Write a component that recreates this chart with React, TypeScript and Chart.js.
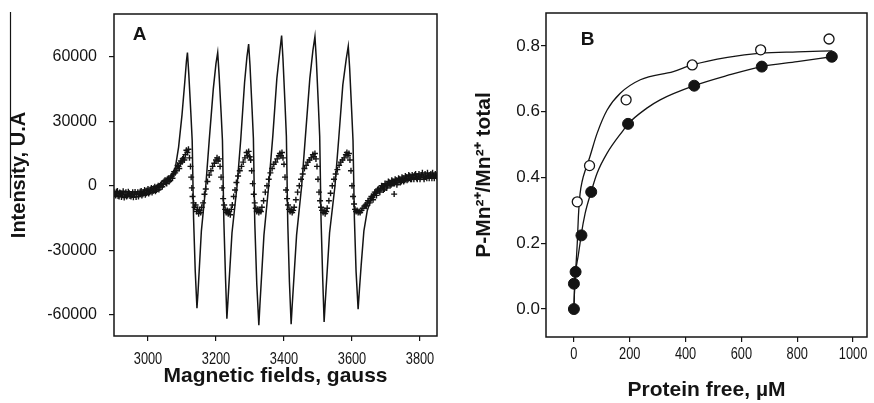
import React, { useEffect, useRef } from "react";
import { Chart, registerables } from "chart.js";
Chart.register(...registerables);

// ---------- Panel A : EPR spectrum ----------
const fieldTicks = [3000, 3200, 3400, 3600, 3800];
const intensityTicks = [-60000, -30000, 0, 30000, 60000];

// simulated spectrum (solid line): [field (gauss), intensity]
const simSpectrum: number[][] = [
  [2900, -3500], [2930, -4200], [2960, -4200], [2990, -3200], [3020, -1200], [3050, 1500], [3070, 4500], [3080, 8000],
  [3090, 18000], [3100, 33000], [3108, 48000], [3113, 58000], [3116, 62000],
  [3120, 52000], [3126, 34000], [3130, 21000], [3134, -15000], [3139, -40000], [3144, -57000],
  [3147, -50000], [3157, -21000], [3170, 0], [3180, 21000], [3192, 45000], [3200, 57000], [3205, 62000],
  [3209, 52000], [3215, 34000], [3219, 21000], [3223, -16000], [3228, -43000], [3232, -62000],
  [3235, -54000], [3247, -22000], [3262, 0], [3273, 22000], [3284, 48000], [3291, 60000], [3296, 66000],
  [3300, 56000], [3306, 36000], [3310, 22000], [3314, -17000], [3320, -46000], [3326, -65000],
  [3329, -56000], [3341, -23000], [3355, 0], [3367, 23000], [3379, 50000], [3388, 63000], [3393, 70000],
  [3397, 59000], [3403, 38000], [3407, 23000], [3411, -17000], [3416, -45000], [3421, -64500],
  [3424, -56000], [3437, -23000], [3452, 0], [3463, 23000], [3476, 50000], [3485, 63000], [3491, 69500],
  [3495, 59000], [3501, 38000], [3505, 23000], [3509, -16000], [3514, -44000], [3518, -63500],
  [3521, -55000], [3534, -22000], [3550, 0], [3561, 22000], [3573, 47000], [3583, 59000], [3589, 65000],
  [3593, 55000], [3599, 35000], [3603, 21000], [3607, -15000], [3612, -40000], [3618, -57500],
  [3622, -48000], [3627, -37000], [3635, -21000], [3645, -11500], [3658, -5500], [3675, -2000],
  [3700, 500], [3740, 2500], [3790, 3800], [3850, 4200],
];

// experimental spectrum (crosses): [field (gauss), intensity]
const expSpectrum: number[][] = [
  [2900, -3000], [2905, -4500], [2910, -2500], [2915, -5000], [2920, -3500], [2925, -4000], [2930, -5500], [2935, -3000],
  [2940, -4500], [2945, -3500], [2950, -5000], [2955, -3000], [2960, -4000], [2965, -5200], [2970, -3000], [2975, -4000],
  [2980, -2500], [2985, -4000], [2990, -2000], [2995, -3500], [3000, -1500], [3005, -3000], [3010, -1000], [3015, -2500],
  [3020, -500], [3025, -2000], [3030, 0], [3035, -1000], [3040, 1000], [3045, 500], [3050, 2500], [3055, 1000],
  [3060, 3500], [3065, 2500], [3070, 4500], [3075, 5500], [3080, 6000], [3085, 8000], [3090, 9000], [3095, 10500],
  [3100, 11000], [3105, 13000], [3110, 14500], [3113, 16500], [3116, 15500], [3119, 17000], [3122, 13000], [3125, 9000],
  [3127, 4000], [3129, -1000], [3131, -5000], [3134, -8000], [3137, -10000], [3140, -9000], [3143, -12000], [3146, -11000],
  [3149, -13000], [3152, -11500], [3155, -12500], [3158, -10000], [3162, -8000], [3166, -4000], [3170, -1500], [3175, 2000],
  [3180, 5000], [3185, 7000], [3190, 9000], [3195, 10500], [3200, 12000], [3203, 13000], [3206, 11500], [3209, 12500],
  [3212, 9000], [3215, 4000], [3218, -1000], [3221, -6000], [3224, -9000], [3227, -11000], [3230, -12500], [3233, -11500],
  [3236, -13000], [3239, -12000], [3242, -13500], [3245, -11000], [3248, -9000], [3252, -5000], [3256, -2000], [3260, 1500],
  [3265, 4500], [3270, 7000], [3275, 9000], [3280, 11000], [3285, 13000], [3290, 15500], [3293, 14000], [3296, 16000],
  [3299, 13500], [3302, 12000], [3305, 7000], [3308, 1000], [3311, -4000], [3314, -8000], [3317, -10500], [3320, -12000],
  [3323, -11000], [3326, -12500], [3329, -11500], [3332, -12000], [3335, -10000], [3340, -7000], [3345, -3000], [3350, 0],
  [3355, 3000], [3360, 6000], [3365, 8000], [3370, 10000], [3375, 11000], [3380, 12500], [3385, 14000], [3388, 15000],
  [3391, 14000], [3394, 15500], [3397, 13000], [3400, 10000], [3403, 4000], [3406, -2000], [3409, -6000], [3412, -9000],
  [3415, -11000], [3418, -12000], [3421, -11000], [3424, -12500], [3427, -11500], [3430, -10000], [3435, -6500], [3440, -3000],
  [3445, 0], [3450, 3000], [3455, 5500], [3460, 8000], [3465, 9500], [3470, 11000], [3475, 12000], [3480, 13000],
  [3485, 14500], [3488, 13500], [3491, 15000], [3494, 12500], [3497, 9000], [3500, 3000], [3503, -3000], [3506, -7000],
  [3509, -10000], [3512, -11500], [3515, -12500], [3518, -11500], [3521, -13000], [3524, -12000], [3527, -10500], [3532, -7000],
  [3537, -3500], [3542, 0], [3547, 3000], [3552, 5500], [3557, 7500], [3562, 9500], [3567, 11000], [3572, 12000],
  [3577, 13000], [3582, 14500], [3585, 15500], [3588, 14000], [3591, 15000], [3594, 12000], [3597, 7000], [3600, 0],
  [3603, -5000], [3606, -8500], [3609, -11000], [3612, -12000], [3615, -11500], [3618, -12500], [3621, -12000], [3624, -12500],
  [3628, -11500], [3632, -10500], [3636, -9500], [3640, -9000], [3645, -8000], [3650, -7000], [3655, -6000], [3660, -5500],
  [3665, -4000], [3670, -3500], [3675, -2000], [3680, -2500], [3685, -1000], [3690, -500], [3695, -1500], [3700, 500],
  [3705, 0], [3710, 1500], [3715, 500], [3720, 2000], [3724, -3900], [3725, 1000], [3730, 2500], [3735, 1500], [3740, 3000],
  [3745, 2000], [3750, 3500], [3755, 2500], [3760, 4000], [3765, 3000], [3770, 4500], [3775, 3000], [3780, 4000],
  [3785, 5000], [3790, 3500], [3795, 4500], [3800, 3000], [3805, 5000], [3810, 4000], [3815, 5500], [3820, 3500],
  [3825, 4500], [3830, 5000], [3835, 3500], [3840, 4500], [3845, 5500], [3850, 4000],
  // additional readings in the noisy baseline regions
  [2902, -4000], [2907, -2800], [2912, -4800], [2917, -3200], [2922, -5200], [2927, -2600], [2932, -4200], [2937, -5000],
  [2942, -2800], [2947, -4800], [2952, -3800], [2957, -5400], [2962, -2900], [2967, -3800], [2972, -5000], [2977, -2800],
  [2982, -4500], [2987, -3000], [2992, -4200], [2997, -2200], [3002, -3600], [3007, -1800], [3012, -3200], [3017, -1200],
  [3022, -2600], [3027, -600], [3032, -1800], [3037, 500], [3042, -500], [3047, 2000], [3052, 1500], [3057, 3000],
  [3062, 2000], [3067, 4000], [3072, 3500], [3077, 6500], [3082, 7000], [3087, 9500], [3092, 8000], [3097, 11500],
  [3102, 12500], [3107, 12000],
  [3642, -9500], [3647, -7000], [3652, -8000], [3657, -5000], [3662, -6500], [3667, -3000], [3672, -4500], [3677, -1500],
  [3682, -3000], [3687, 0], [3692, -2000], [3697, 1000], [3702, -1000], [3707, 2000], [3712, 0], [3717, 2500],
  [3722, 1000], [3727, 3000], [3732, 500], [3737, 3500], [3742, 1500], [3747, 4000], [3752, 2000], [3757, 4500],
  [3762, 2500], [3767, 5000], [3772, 3000], [3777, 5000], [3782, 3000], [3787, 5500], [3792, 3000], [3797, 5500],
  [3802, 4000], [3807, 6000], [3812, 3000], [3817, 4500], [3822, 6000], [3827, 3500], [3832, 5500], [3837, 6000],
  [3842, 3500], [3847, 5000],
];

// ---------- Panel B : binding curves ----------
const proteinTicks = [0, 200, 400, 600, 800, 1000];
const ratioTicks = [0, 0.2, 0.4, 0.6, 0.8];

const openProtein = [12, 56, 187, 424, 669, 914];
const openRatio = [0.326, 0.436, 0.636, 0.742, 0.788, 0.821];
const filledProtein = [0, 0, 6, 27, 62, 194, 431, 673, 924];
const filledRatio = [0, 0.077, 0.113, 0.224, 0.356, 0.563, 0.679, 0.737, 0.767];

const openFitProtein = [0, 3, 8, 12, 16, 22, 30, 42, 56, 83, 119, 166, 238, 356, 424, 550, 670, 800, 926];
const openFitRatio = [0, 0.08, 0.14, 0.2, 0.28, 0.35, 0.39, 0.425, 0.46, 0.534, 0.605, 0.656, 0.697, 0.722, 0.742, 0.765, 0.778, 0.782, 0.785];
const filledFitProtein = [0, 3, 6, 15, 22, 26, 40, 62, 83, 119, 178, 194, 260, 309, 431, 550, 673, 800, 924];
const filledFitRatio = [0, 0.08, 0.113, 0.16, 0.2, 0.225, 0.29, 0.357, 0.413, 0.474, 0.545, 0.563, 0.61, 0.636, 0.679, 0.71, 0.737, 0.752, 0.767];

const FONT = "'Liberation Sans', Arial, Helvetica, sans-serif";
const INK = "#141414";

const pairs = (xs: number[], ys: number[]) => xs.map((x, i) => ({ x, y: ys[i] }));

function framePlugin() {
  return {
    id: "frame",
    afterDatasetsDraw(chart: any) {
      const { ctx, chartArea } = chart;
      const { left, top, right, bottom } = chartArea;
      ctx.save();
      ctx.strokeStyle = INK;
      ctx.lineWidth = 1.5;
      ctx.strokeRect(left, top, right - left, bottom - top);
      ctx.restore();
    },
  };
}

function xLabelPlugin(centerY: number, squeeze: number) {
  return {
    id: "xlabels",
    afterDraw(chart: any) {
      const s = chart.scales.x;
      const ctx = chart.ctx;
      ctx.save();
      ctx.font = `16px ${FONT}`;
      ctx.fillStyle = INK;
      ctx.textAlign = "center";
      ctx.textBaseline = "middle";
      for (const t of s.ticks) {
        const x = s.getPixelForValue(t.value);
        ctx.save();
        ctx.translate(x, centerY);
        ctx.scale(squeeze, 1);
        ctx.fillText(String(t.value), 0, 0);
        ctx.restore();
      }
      ctx.restore();
    },
  };
}

function yLabelPlugin(rightX: number, size: number, fmt: (v: number) => string) {
  return {
    id: "ylabels",
    afterDraw(chart: any) {
      const s = chart.scales.y;
      const ctx = chart.ctx;
      ctx.save();
      ctx.font = `${size}px ${FONT}`;
      ctx.fillStyle = INK;
      ctx.textAlign = "right";
      ctx.textBaseline = "middle";
      for (const t of s.ticks) {
        ctx.fillText(fmt(t.value), rightX, s.getPixelForValue(t.value));
      }
      ctx.restore();
    },
  };
}

function panelLabelPlugin(text: string, dx: number, dy: number) {
  return {
    id: "panelLabel",
    afterDraw(chart: any) {
      const { ctx, chartArea } = chart;
      ctx.save();
      ctx.font = `bold 19px ${FONT}`;
      ctx.fillStyle = INK;
      ctx.textAlign = "center";
      ctx.textBaseline = "middle";
      ctx.fillText(text, chartArea.left + dx, chartArea.top + dy);
      ctx.restore();
    },
  };
}

const artifactPlugin = {
  id: "artifact",
  afterDraw(chart: any) {
    const ctx = chart.ctx;
    ctx.save();
    ctx.strokeStyle = INK;
    ctx.lineWidth = 1.2;
    ctx.beginPath();
    ctx.moveTo(10.5, 12);
    ctx.lineTo(10.5, 198);
    ctx.stroke();
    ctx.restore();
  },
};

const tickGrid = { display: true, drawOnChartArea: false, drawTicks: true, tickLength: 5, color: INK, lineWidth: 1.2 };

export default function App() {
  const refA = useRef<HTMLCanvasElement>(null);
  const refB = useRef<HTMLCanvasElement>(null);

  useEffect(() => {
    const chartA = new Chart(refA.current as HTMLCanvasElement, {
      type: "scatter",
      data: {
        datasets: [
          {
            data: simSpectrum.map(([x, y]) => ({ x, y })),
            showLine: true,
            borderColor: INK,
            borderWidth: 1.5,
            pointRadius: 0,
            tension: 0,
          } as any,
          {
            data: expSpectrum.map(([x, y]) => ({ x, y })),
            showLine: false,
            pointStyle: "cross",
            pointRadius: 3,
            borderColor: INK,
            pointBorderWidth: 1.4,
            backgroundColor: INK,
          } as any,
        ],
      },
      options: {
        responsive: false,
        maintainAspectRatio: false,
        animation: false,
        devicePixelRatio: 1,
        layout: { autoPadding: false, padding: { left: 0, top: 14, right: 3, bottom: 0 } },
        plugins: { legend: { display: false }, tooltip: { enabled: false } },
        scales: {
          x: {
            type: "linear",
            min: 2900,
            max: 3850,
            afterBuildTicks: (s: any) => { s.ticks = fieldTicks.map((v) => ({ value: v })); },
            afterFit: (s: any) => { s.height = 67; },
            ticks: { display: false },
            grid: tickGrid,
            border: { display: false },
            title: {
              display: true,
              text: "Magnetic fields, gauss",
              color: INK,
              font: { family: FONT, size: 21, weight: "bold" },
              padding: { top: 0, bottom: 14 },
            },
          },
          y: {
            type: "linear",
            min: -70000,
            max: 80000,
            afterBuildTicks: (s: any) => { s.ticks = intensityTicks.map((v) => ({ value: v })); },
            afterFit: (s: any) => { s.width = 114; },
            ticks: { display: false },
            grid: tickGrid,
            border: { display: false },
            title: {
              display: true,
              text: "Intensity, U.A",
              color: INK,
              font: { family: FONT, size: 20, weight: "bold" },
              padding: { top: 7, bottom: 0 },
            },
          },
        },
      } as any,
      plugins: [
        framePlugin(),
        xLabelPlugin(360, 0.8),
        yLabelPlugin(97, 16, (v) => String(v)),
        panelLabelPlugin("A", 25.5, 21),
        artifactPlugin,
      ],
    });

    const chartB = new Chart(refB.current as HTMLCanvasElement, {
      type: "scatter",
      data: {
        datasets: [
          {
            data: pairs(filledProtein, filledRatio),
            pointStyle: "circle",
            pointRadius: 5.5,
            backgroundColor: INK,
            borderColor: INK,
            pointBorderWidth: 1,
            showLine: false,
          } as any,
          {
            data: pairs(openProtein, openRatio),
            pointStyle: "circle",
            pointRadius: 5,
            backgroundColor: "#ffffff",
            borderColor: INK,
            pointBorderWidth: 1.3,
            showLine: false,
          } as any,
          {
            data: pairs(openFitProtein, openFitRatio),
            showLine: true,
            pointRadius: 0,
            borderColor: INK,
            borderWidth: 1.3,
            cubicInterpolationMode: "monotone",
          } as any,
          {
            data: pairs(filledFitProtein, filledFitRatio),
            showLine: true,
            pointRadius: 0,
            borderColor: INK,
            borderWidth: 1.3,
            cubicInterpolationMode: "monotone",
          } as any,
        ],
      },
      options: {
        responsive: false,
        maintainAspectRatio: false,
        animation: false,
        devicePixelRatio: 1,
        layout: { autoPadding: false, padding: { left: 0, top: 13, right: 7, bottom: 0 } },
        plugins: { legend: { display: false }, tooltip: { enabled: false } },
        scales: {
          x: {
            type: "linear",
            min: -100,
            max: 1050,
            afterBuildTicks: (s: any) => { s.ticks = proteinTicks.map((v) => ({ value: v })); },
            afterFit: (s: any) => { s.height = 66; },
            ticks: { display: false },
            grid: tickGrid,
            border: { display: false },
            title: {
              display: true,
              text: "Protein free, µM",
              color: INK,
              font: { family: FONT, size: 21, weight: "bold" },
              padding: { top: 0, bottom: 0 },
            },
          },
          y: {
            type: "linear",
            min: -0.085,
            max: 0.9,
            afterBuildTicks: (s: any) => { s.ticks = ratioTicks.map((v) => ({ value: v })); },
            afterFit: (s: any) => { s.width = 106; },
            ticks: { display: false },
            grid: tickGrid,
            border: { display: false },
            title: {
              display: true,
              text: "P-Mn²⁺/Mn²⁺ total",
              color: INK,
              font: { family: FONT, size: 21, weight: "bold" },
              padding: { top: 32, bottom: 0 },
            },
          },
        },
      } as any,
      plugins: [
        framePlugin(),
        xLabelPlugin(355, 0.8),
        yLabelPlugin(100, 17, (v) => Number(v).toFixed(1)),
        panelLabelPlugin("B", 41.5, 27),
      ],
    });

    return () => {
      chartA.destroy();
      chartB.destroy();
    };
  }, []);

  return (
    <div style={{ position: "absolute", left: 0, top: 0, width: 874, height: 403, background: "#ffffff" }}>
      <canvas ref={refA} width={440} height={403} style={{ position: "absolute", left: 0, top: 0, width: 440, height: 403 }} />
      <canvas ref={refB} width={434} height={403} style={{ position: "absolute", left: 440, top: 0, width: 434, height: 403 }} />
    </div>
  );
}
